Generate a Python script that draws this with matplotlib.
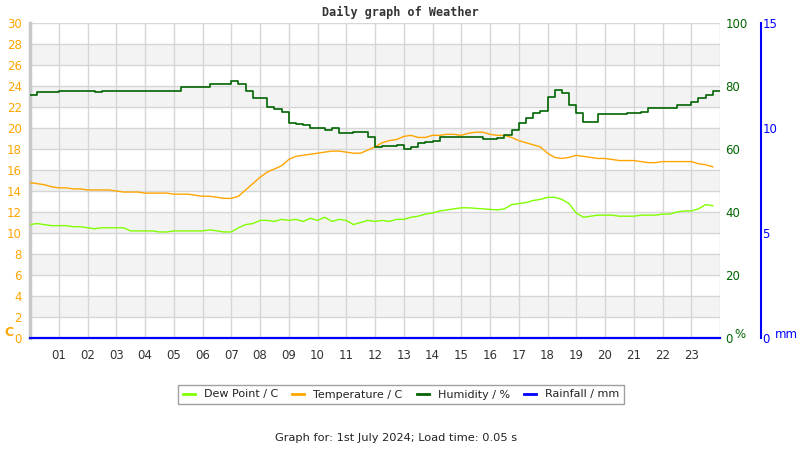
import numpy as np
import matplotlib
matplotlib.use("Agg")
import matplotlib.pyplot as plt
from matplotlib.lines import Line2D

# ---- data (15-minute readings, hours 0..23.75) ----
hours = [i / 4 for i in range(96)]

temperature = [14.8, 14.7, 14.6, 14.4, 14.3, 14.3, 14.2, 14.2,
               14.1, 14.1, 14.1, 14.1, 14.0, 13.9, 13.9, 13.9,
               13.8, 13.8, 13.8, 13.8, 13.7, 13.7, 13.7, 13.6,
               13.5, 13.5, 13.4, 13.3, 13.3, 13.5, 14.1, 14.7,
               15.3, 15.8, 16.1, 16.4, 17.0, 17.3, 17.4, 17.5,
               17.6, 17.7, 17.8, 17.8, 17.7, 17.6, 17.6, 17.9,
               18.2, 18.6, 18.8, 18.9, 19.2, 19.3, 19.1, 19.1,
               19.3, 19.3, 19.4, 19.4, 19.3, 19.5, 19.6, 19.6,
               19.4, 19.3, 19.3, 19.1, 18.8, 18.6, 18.4, 18.2,
               17.6, 17.2, 17.1, 17.2, 17.4, 17.3, 17.2, 17.1,
               17.1, 17.0, 16.9, 16.9, 16.9, 16.8, 16.7, 16.7,
               16.8, 16.8, 16.8, 16.8, 16.8, 16.6, 16.5, 16.3]

dew_point = [10.8, 10.9, 10.8, 10.7, 10.7, 10.7, 10.6, 10.6,
             10.5, 10.4, 10.5, 10.5, 10.5, 10.5, 10.2, 10.2,
             10.2, 10.2, 10.1, 10.1, 10.2, 10.2, 10.2, 10.2,
             10.2, 10.3, 10.2, 10.1, 10.1, 10.5, 10.8, 10.9,
             11.2, 11.2, 11.1, 11.3, 11.2, 11.3, 11.1, 11.4,
             11.2, 11.5, 11.1, 11.3, 11.2, 10.8, 11.0, 11.2,
             11.1, 11.2, 11.1, 11.3, 11.3, 11.5, 11.6, 11.8,
             11.9, 12.1, 12.2, 12.3, 12.4, 12.4, 12.35, 12.3,
             12.25, 12.2, 12.3, 12.7, 12.8, 12.9, 13.1, 13.2,
             13.4, 13.4, 13.2, 12.8, 11.9, 11.5, 11.6, 11.7,
             11.7, 11.7, 11.6, 11.6, 11.6, 11.7, 11.7, 11.7,
             11.8, 11.8, 12.0, 12.1, 12.1, 12.3, 12.7, 12.6]

humidity = [77.1, 78.0, 78.0, 78.0, 78.4, 78.4, 78.4, 78.4,
            78.4, 78.0, 78.4, 78.4, 78.4, 78.4, 78.4, 78.4,
            78.4, 78.4, 78.4, 78.4, 78.4, 79.6, 79.6, 79.6,
            79.6, 80.6, 80.6, 80.6, 81.7, 80.5, 78.5, 76.3,
            76.3, 73.4, 72.6, 71.8, 68.1, 67.8, 67.6, 66.6,
            66.6, 66.0, 66.6, 65.0, 65.0, 65.5, 65.5, 63.9,
            60.7, 61.0, 61.0, 61.3, 59.9, 60.7, 62.0, 62.3,
            62.6, 63.9, 63.9, 63.9, 63.9, 63.9, 63.9, 63.2,
            63.2, 63.5, 64.4, 66.0, 68.1, 69.7, 71.3, 72.0,
            76.5, 78.7, 77.9, 74.0, 71.5, 68.5, 68.7, 71.0,
            71.0, 71.0, 71.0, 71.3, 71.3, 71.8, 72.9, 72.9,
            72.9, 72.9, 74.0, 74.0, 75.0, 76.1, 77.1, 78.5]

rainfall = [0.0] * 96

hour_ticks = list(range(1, 24))
hour_labels = ["%02d" % h for h in hour_ticks]
temp_ticks = list(range(0, 31, 2))
hum_ticks = list(range(0, 101, 20))
rain_ticks = [0, 5, 10, 15]

C_TEMP = "#ffa500"
C_DEW = "#80ff00"
C_HUM = "#006400"
C_RAIN = "#0000ff"
GRID = "#d6d6d6"
BAND = "#f3f3f3"
FS = 8.5

fig = plt.figure(figsize=(8, 4.5), dpi=100)
ax = fig.add_axes([30 / 800, 1 - 338 / 450, 690 / 800, 315 / 450])
ax.set_xlim(0, 24)
ax.set_ylim(0, 30)

# bands and grid
for lo in range(2, 30, 4):
    ax.axhspan(lo, lo + 2, color=BAND, zorder=0, lw=0)
for t in temp_ticks:
    ax.axhline(t, color=GRID, lw=1, zorder=1)
for h in range(0, 25):
    ax.axvline(h, color=GRID, lw=1, zorder=1)

for s in ["top", "right", "bottom"]:
    ax.spines[s].set_visible(False)
ax.spines["left"].set_color("#c8c8c8")
ax.spines["left"].set_linewidth(2.5)

ax.set_xticks(hour_ticks)
ax.set_xticklabels(hour_labels)
ax.tick_params(axis="x", length=0, pad=8, labelsize=FS, labelcolor="#333333")
ax.set_yticks(temp_ticks)
ax.tick_params(axis="y", length=0, pad=6, labelsize=FS, labelcolor=C_TEMP)

ax.plot(hours, dew_point, color=C_DEW, lw=1, zorder=3)
ax.plot(hours, temperature, color=C_TEMP, lw=1, zorder=3)

# humidity axis
ax2 = ax.twinx()
ax2.set_ylim(0, 100)
for s in ax2.spines.values():
    s.set_visible(False)
ax2.set_yticks(hum_ticks)
ax2.tick_params(axis="y", length=0, pad=4, labelsize=FS, labelcolor=C_HUM)
ax2.plot(hours + [24], humidity + [humidity[-1]], color=C_HUM, lw=1.2, zorder=3,
         drawstyle="steps-post")

# rainfall axis
ax3 = ax.twinx()
ax3.set_ylim(0, 15)
for s in ["top", "left", "bottom"]:
    ax3.spines[s].set_visible(False)
ax3.spines["right"].set_position(("axes", (761 - 30) / 690))
ax3.spines["right"].set_color(C_RAIN)
ax3.spines["right"].set_linewidth(1.5)
ax3.set_yticks(rain_ticks)
ax3.tick_params(axis="y", length=0, pad=1, labelsize=FS, labelcolor=C_RAIN)
ax3.plot(hours + [24], rainfall + [rainfall[-1]], color=C_RAIN, lw=1.6, zorder=4,
         drawstyle="steps-post", clip_on=False)

# titles & unit labels
fig.text(400 / 800, 1 - 12 / 450, "Daily graph of Weather", ha="center", va="center",
         fontsize=8.5, fontweight="bold", family="DejaVu Sans Mono", color="#333333")
fig.text(4 / 800, 1 - 333 / 450, "C", ha="left", va="center", fontsize=9,
         fontweight="bold", color=C_TEMP)
fig.text(734 / 800, 1 - 334 / 450, "%", ha="left", va="center", fontsize=FS, color=C_HUM)
fig.text(775 / 800, 1 - 334 / 450, "mm", ha="left", va="center", fontsize=FS, color=C_RAIN)

handles = [Line2D([], [], color=C_DEW, lw=2),
           Line2D([], [], color=C_TEMP, lw=2),
           Line2D([], [], color=C_HUM, lw=2),
           Line2D([], [], color=C_RAIN, lw=2)]
labels = ["Dew Point / C", "Temperature / C", "Humidity / %", "Rainfall / mm"]
leg = fig.legend(handles, labels, loc="center", bbox_to_anchor=(401 / 800, 1 - 394.5 / 450),
                 ncol=4, fontsize=8, frameon=True, fancybox=False, handlelength=1.08,
                 columnspacing=1.3, handletextpad=0.8, borderpad=0.4, borderaxespad=0)
leg.get_frame().set_edgecolor("#888888")
leg.get_frame().set_linewidth(1)
for t in leg.get_texts():
    t.set_color("#222222")

fig.text(396 / 800, 1 - 438 / 450, "Graph for: 1st July 2024; Load time: 0.05 s",
         ha="center", va="center", fontsize=8.2, color="#222222")

fig.savefig("out.png", dpi=100)
